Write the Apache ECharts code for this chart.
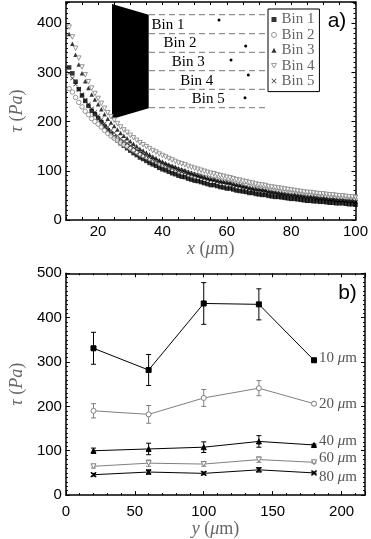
<!DOCTYPE html>
<html>
<head>
<meta charset="utf-8">
<script src="https://cdn.jsdelivr.net/npm/echarts@6/dist/echarts.min.js"></script>
<style>
  html, body { margin: 0; padding: 0; background: #fff; }
  #main { width: 371px; height: 539px; }
</style>
</head>
<body>
<div id="main"></div>
<script>
// panel a) : stress against distance from the wall, one series per bin
var wallX = [11, 12, 13, 14, 15, 16, 17, 18, 19, 20,
    21, 22, 23, 24, 25, 26, 27, 28, 29, 30,
    31, 32, 33, 34, 35, 36, 37, 38, 39, 40,
    41, 42, 43, 44, 45, 46, 47, 48, 49, 50,
    51, 52, 53, 54, 55, 56, 57, 58, 59, 60,
    61, 62, 63, 64, 65, 66, 67, 68, 69, 70,
    71, 72, 73, 74, 75, 76, 77, 78, 79, 80,
    81, 82, 83, 84, 85, 86, 87, 88, 89, 90,
    91, 92, 93, 94, 95, 96, 97, 98, 99, 100];
var bin1 = [310, 298, 281, 266, 253, 242, 232, 222, 215, 207,
    199, 190, 182, 175, 168, 162, 156, 151, 146, 141,
    136, 132, 127, 124, 120, 116, 113, 110, 106, 103,
    101, 98, 95, 93, 90, 88, 87, 84, 82, 80,
    79, 77, 75, 73, 71, 71, 69, 67, 66, 64,
    64, 62, 60, 59, 58, 57, 55, 55, 53, 52,
    51, 51, 49, 48, 47, 47, 46, 45, 44, 43,
    43, 42, 41, 40, 39, 39, 38, 38, 37, 37,
    36, 35, 35, 34, 34, 34, 33, 32, 32, 31];
var bin2 = [267, 260, 249, 239, 230, 221, 214, 206, 200, 195,
    189, 182, 176, 171, 166, 162, 157, 153, 150, 146,
    142, 138, 134, 131, 128, 125, 122, 120, 116, 114,
    111, 109, 107, 104, 102, 100, 98, 96, 94, 92,
    91, 89, 87, 86, 84, 83, 82, 80, 79, 77,
    77, 75, 73, 72, 70, 70, 68, 67, 65, 64,
    63, 63, 61, 60, 59, 58, 57, 56, 55, 55,
    54, 53, 52, 51, 50, 50, 49, 48, 48, 48,
    47, 46, 46, 45, 44, 44, 43, 42, 42, 41];
var bin3 = [378, 358, 336, 316, 298, 282, 268, 255, 245, 235,
    225, 215, 206, 198, 191, 184, 177, 171, 166, 160,
    155, 150, 145, 141, 137, 133, 129, 126, 122, 119,
    116, 113, 110, 108, 105, 103, 101, 98, 96, 94,
    92, 90, 88, 86, 84, 83, 81, 79, 78, 77,
    76, 74, 72, 71, 69, 68, 66, 65, 64, 63,
    62, 61, 59, 58, 57, 56, 55, 54, 53, 52,
    52, 51, 50, 49, 48, 48, 47, 46, 45, 45,
    44, 43, 43, 42, 41, 41, 40, 40, 40, 39];
var bin4 = [392, 372, 349, 329, 311, 295, 281, 268, 257, 247,
    237, 227, 218, 210, 203, 196, 189, 183, 178, 172,
    167, 162, 157, 153, 149, 145, 141, 138, 134, 131,
    128, 125, 122, 119, 116, 114, 112, 109, 107, 105,
    103, 101, 99, 97, 95, 94, 92, 90, 89, 87,
    86, 84, 82, 81, 79, 78, 76, 75, 73, 72,
    71, 70, 68, 67, 66, 65, 64, 63, 62, 61,
    60, 59, 58, 57, 56, 56, 55, 54, 53, 53,
    52, 51, 51, 50, 49, 49, 48, 47, 47, 46];
var bin5 = [298, 288, 276, 265, 255, 244, 235, 226, 219, 212,
    204, 196, 189, 182, 177, 171, 165, 160, 156, 151,
    147, 142, 138, 134, 130, 127, 123, 120, 117, 114,
    111, 108, 106, 103, 100, 98, 96, 94, 92, 90,
    88, 86, 84, 82, 81, 80, 78, 76, 75, 73,
    72, 70, 69, 68, 66, 65, 63, 62, 60, 59,
    58, 58, 56, 55, 54, 53, 52, 51, 50, 49,
    49, 48, 47, 46, 45, 45, 44, 43, 42, 42,
    41, 40, 40, 39, 39, 39, 38, 37, 37, 36];

// panel b) : stress across the channel at fixed wall distances
var spanY = [20, 60, 100, 140, 180];
var tau10 = [331, 282, 432, 430, 304];
var err10 = [36, 35, 47, 35, 4];
var tau20 = [190, 182, 219, 241, 206];
var err20 = [16, 20, 19, 17, 3];
var tau40 = [100, 104, 108, 121, 113];
var err40 = [6, 13, 12, 13, 2];
var tau60 = [65, 72, 70, 80, 74];
var err60 = [4, 7, 5, 6, 2];
var tau80 = [46, 52, 49, 57, 50];
var err80 = [3, 5, 3, 5, 2];

var SANS = 'Liberation Sans';
var SERIF = 'Liberation Serif';
var GREY = '#808080';
var CROSS = 'path://M0,1L1,0L5,4L9,0L10,1L6,5L10,9L9,10L5,6L1,10L0,9L4,5Z';
var DOWN = 'path://M0,0L10,0L5,9Z';
var OPEN = { color: '#fff', borderColor: GREY, borderWidth: 1 };

var myChart = echarts.init(document.getElementById('main'));

function nameStyle() {
    return {
        fontFamily: SERIF, fontSize: 18, color: '#666',
        rich: { i: { fontFamily: SERIF, fontSize: 18, color: '#666', fontStyle: 'italic' } }
    };
}

// one visible axis with labels plus a mirrored one to close the box
function axisPair(dim, grid, min, max, interval, minor, margin, name, nameGap, showMax, labelFn) {
    var tick = { show: true, inside: true, length: minor ? 4 : 3, lineStyle: { color: '#000', width: 1 } };
    var common = {
        type: 'value', gridIndex: grid, min: min, max: max, interval: interval,
        axisLine: { show: true, onZero: false, lineStyle: { color: '#000', width: 1.5 } },
        axisTick: tick,
        minorTick: { show: minor > 0, splitNumber: minor || 5, length: 2, lineStyle: { color: '#000', width: 1 } },
        splitLine: { show: false }
    };
    var main = Object.assign({}, common, {
        position: dim === 'x' ? 'bottom' : 'left',
        name: name, nameLocation: 'middle', nameGap: nameGap,
        nameRotate: dim === 'y' ? 90 : 0,
        nameTextStyle: nameStyle(),
        axisLabel: {
            show: true, margin: margin, color: '#000', fontFamily: SANS, fontSize: 15,
            showMaxLabel: showMax, formatter: labelFn
        }
    });
    var mirror = Object.assign({}, common, {
        position: dim === 'x' ? 'top' : 'right',
        axisLabel: { show: false }
    });
    return [main, mirror];
}

var xa = axisPair('x', 0, 10, 100, 5, 0, 4, '{i|x} ({i|μ}m)', 12, true,
    function (v) { return v % 20 === 0 ? v : ''; });
var xb = axisPair('x', 1, 0, 217, 50, 5, 9, '{i|y} ({i|μ}m)', 19, false);
var ya = axisPair('y', 0, 0, 443, 100, 10, 4, '{i|τ} ({i|Pa})', 34, false);
var yb = axisPair('y', 1, 0, 500, 100, 10, 4, '{i|τ} ({i|Pa})', 34, true);

function pairs(xs, ys) {
    return xs.map(function (x, i) { return [x, ys[i]]; });
}

function binSeries(name, ys, symbol, color, open) {
    return {
        name: name, type: 'scatter', xAxisIndex: 0, yAxisIndex: 0,
        data: pairs(wallX, ys),
        symbol: symbol, symbolSize: 4.5,
        itemStyle: open ? OPEN : { color: color },
        emphasis: { disabled: true }, animation: false
    };
}

function errorBars(params, api) {
    var x = api.value(0), y = api.value(1), e = api.value(2);
    var hi = api.coord([x, y + e]);
    var lo = api.coord([x, y - e]);
    var style = { stroke: api.visual('color'), lineWidth: 1 };
    return {
        type: 'group', children: [
            { type: 'line', shape: { x1: hi[0], y1: hi[1], x2: lo[0], y2: lo[1] }, style: style },
            { type: 'line', shape: { x1: hi[0] - 2.5, y1: hi[1], x2: hi[0] + 2.5, y2: hi[1] }, style: style },
            { type: 'line', shape: { x1: lo[0] - 2.5, y1: lo[1], x2: lo[0] + 2.5, y2: lo[1] }, style: style }
        ]
    };
}

function distSeries(label, ys, errs, symbol, color, open, dy) {
    return [{
        name: label + ' μm', type: 'line', xAxisIndex: 2, yAxisIndex: 2,
        data: pairs(spanY, ys),
        symbol: symbol, symbolSize: 5, showAllSymbol: true,
        lineStyle: { color: color, width: 1 },
        itemStyle: open ? OPEN : { color: color, borderColor: color },
        endLabel: {
            show: true, distance: 5, offset: [0, dy],
            formatter: '{n|' + label + ' }{u|μ}{n|m}',
            rich: {
                n: { fontFamily: SERIF, fontSize: 15, color: '#555' },
                u: { fontFamily: SERIF, fontSize: 15, color: '#555', fontStyle: 'italic' }
            }
        },
        emphasis: { disabled: true }, animation: false, z: 3
    }, {
        type: 'custom', xAxisIndex: 2, yAxisIndex: 2,
        data: spanY.map(function (y, i) { return [y, ys[i], errs[i]]; }),
        renderItem: errorBars, itemStyle: { color: color },
        animation: false, z: 2
    }];
}

// the sketch of the wall and the five bins inside panel a)
var binLineY = [14.7, 33.7, 52.3, 70.7, 89.3, 107.7];
var inset = [{
    type: 'polygon', shape: { points: [[112, 4], [148.7, 14.7], [148.7, 108.3], [112, 119]] },
    style: { fill: '#000' }
}];
binLineY.forEach(function (y) {
    inset.push({
        type: 'line', shape: { x1: 149, y1: y, x2: 265, y2: y },
        style: { stroke: '#777', lineWidth: 1, lineDash: [6, 4] }
    });
});
[[168, 25], [180, 43.3], [188.3, 62.3], [196.7, 80.7], [208.3, 99.3]].forEach(function (p, i) {
    inset.push({
        type: 'text', x: p[0], y: p[1],
        style: { text: 'Bin ' + (i + 1), font: '15px "Liberation Serif"', fill: '#000', align: 'center', verticalAlign: 'middle' }
    });
});
[[219, 20], [245.7, 46], [231, 60], [248.3, 75], [245, 97.7]].forEach(function (p) {
    inset.push({ type: 'circle', shape: { cx: p[0], cy: p[1], r: 1.5 }, style: { fill: '#000' } });
});
inset.push({
    type: 'text', x: 337, y: 21,
    style: { text: 'a)', font: '21px "Liberation Sans"', fill: '#000', align: 'center', verticalAlign: 'middle' }
});
inset.push({
    type: 'text', x: 347.5, y: 293,
    style: { text: 'b)', font: '21px "Liberation Sans"', fill: '#000', align: 'center', verticalAlign: 'middle' }
});

var option = {
    backgroundColor: '#fff',
    animation: false,
    grid: [
        { left: 53, top: 2, width: 305, height: 218 },
        { left: 53.3, top: 273.3, width: 311.7, height: 224.2 }
    ],
    xAxis: xa.concat(xb),
    yAxis: ya.concat(yb),
    legend: {
        data: [
            { name: 'Bin 1' },
            { name: 'Bin 2', itemStyle: OPEN },
            { name: 'Bin 3' },
            { name: 'Bin 4', itemStyle: OPEN },
            { name: 'Bin 5' }
        ],
        orient: 'vertical', left: 268, top: 9,
        padding: [3, 5, 3, 3],
        itemWidth: 5, itemHeight: 5, itemGap: 0.4,
        borderColor: '#000', borderWidth: 1, borderRadius: 0,
        backgroundColor: '#fff',
        textStyle: { fontFamily: SERIF, fontSize: 15, color: '#666', lineHeight: 15 },
        selectedMode: false
    },
    graphic: inset,
    series: [
        binSeries('Bin 1', bin1, 'rect', '#000', false),
        binSeries('Bin 2', bin2, 'circle', GREY, true),
        binSeries('Bin 3', bin3, 'triangle', '#000', false),
        binSeries('Bin 4', bin4, DOWN, GREY, true),
        binSeries('Bin 5', bin5, CROSS, '#000', false)
    ].concat(
        distSeries('10', tau10, err10, 'rect', '#000', false, -2),
        distSeries('20', tau20, err20, 'circle', GREY, true, 0),
        distSeries('40', tau40, err40, 'triangle', '#000', false, -4),
        distSeries('60', tau60, err60, DOWN, GREY, true, -4),
        distSeries('80', tau80, err80, CROSS, '#000', false, 4)
    )
};

myChart.setOption(option);
window.onresize = myChart.resize;
</script>
</body>
</html>
